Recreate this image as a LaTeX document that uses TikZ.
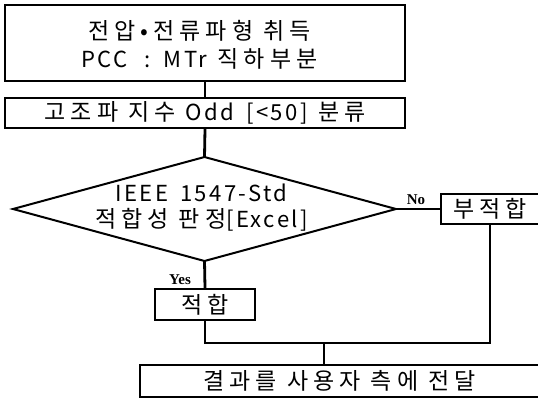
\documentclass[tikz,border=0pt]{standalone}
\usepackage{fontspec}
\setmainfont{Noto Sans CJK KR}[LetterSpace=22]
\newfontfamily\latf{Noto Sans CJK KR}[Scale=0.96,LetterSpace=11,WordSpace=1.6]
\newcommand\lat[1]{{\latf #1}}
\newfontfamily\labelfont{Liberation Serif}
\begin{document}
\begin{tikzpicture}[x=1pt,y=-1pt,
  box/.style={draw,line width=2pt,inner sep=0pt,font=\fontsize{23}{28}\selectfont},
  conn/.style={line width=2.8pt},
  lbl/.style={font=\labelfont\bfseries\fontsize{15}{15}\selectfont,inner sep=0pt},
  txt/.style={inner sep=0pt,align=center,font=\fontsize{23}{26}\selectfont}]
\useasboundingbox[fill=white] (0,0) rectangle (538,399);
% boxes
\node[box,minimum width=400pt,minimum height=76pt] (top) at (205,43) {};
\node[txt,font=\fontsize{23}{28.5}\selectfont] (toptxt) at (199.5,45)
  {전압•전류파형 취득\\\lat{PCC\hskip 17pt:\hskip 13pt MTr} 직하부분};
\node[box,minimum width=400pt,minimum height=30pt] (cls) at (205,113) {고조파 지수 \lat{Odd [<50]} 분류};
\draw[line width=2pt] (204.5,157) coordinate (dn) -- (396,209) coordinate (de)
  -- (204.5,261) coordinate (ds) -- (13,209) coordinate (dw) -- cycle;
\node[txt] (dtxt) at (201.5,208) {\lat{IEEE 1547-Std}\\적합성 판정\lat{[Excel]}};
\node[box,line width=2.6pt,minimum width=98pt,minimum height=30pt] (nf) at (490,209) {부적합};
\node[box,minimum width=100pt,minimum height=31pt] (ok) at (205,304.5) {적합};
\node[box,minimum width=399pt,minimum height=32pt] (res) at (339.5,381) {결과를 사용자 측에 전달};
\coordinate (m) at (324,343);
% connectors
\draw[conn] (top.south) -- (cls.north);
\draw[conn] (cls.south) -- (dn);
\draw[conn] (de) -- (nf.west);
\draw[conn] (ds) -- (ok.north);
\draw[conn] (ok.south) |- (m) -| (nf.south);
\draw[conn] (m) -- (m |- res.north);
% labels
\node[lbl] (yes) at (180,280) {Yes};
\node[lbl] (no) at (416,200) {No};
\end{tikzpicture}
\end{document}
